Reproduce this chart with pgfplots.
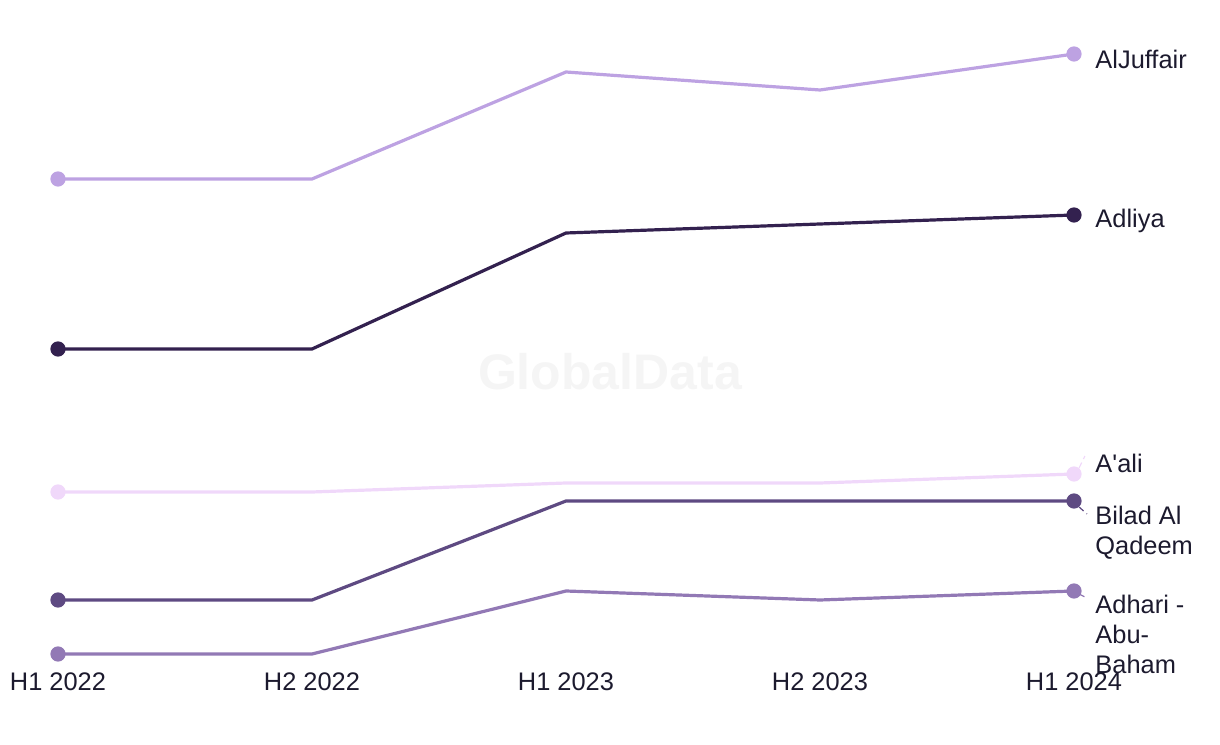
\documentclass[border=0pt]{standalone}
\usepackage{pgfplots}
\pgfplotsset{compat=1.18}
\usepackage{fontspec}
\setmainfont{Liberation Sans}
\definecolor{txt}{HTML}{1C1A2E}
\definecolor{cJuf}{HTML}{BDA2E2}
\definecolor{cAdl}{HTML}{33214F}
\definecolor{cAal}{HTML}{F0D8FA}
\definecolor{cBil}{HTML}{5E4A82}
\definecolor{cAdh}{HTML}{9279B5}
\begin{document}
\begin{tikzpicture}
\useasboundingbox (0,0) rectangle (610pt,372pt);
\node[text=black!4, font=\bfseries\fontsize{25}{30}\selectfont] at (305pt,186pt) {GlobalData};
\begin{axis}[
  at={(29pt,41pt)}, anchor=south west,
  scale only axis, width=508pt, height=331pt,
  xmin=0, xmax=4, ymin=82, ymax=744,
  axis line style={draw=none}, tick style={draw=none}, clip=false,
  xtick={0,1,2,3,4},
  xticklabels={H1 2022,H2 2022,H1 2023,H2 2023,H1 2024},
  ytick=\empty,
  xticklabel style={font=\fontsize{12.7}{14}\selectfont, text=txt, anchor=north, yshift=-2pt},
  every axis plot/.append style={line width=1.6pt, mark=*, mark size=3pt},
]
\addplot[cJuf, mark options={fill=cJuf, draw=cJuf}, mark indices={1,5}] coordinates {(0,565)(1,565)(2,672)(3,654)(4,690)};
\addplot[cAdl, mark options={fill=cAdl, draw=cAdl}, mark indices={1,5}] coordinates {(0,395)(1,395)(2,511)(3,520)(4,529)};
\addplot[cAal, mark options={fill=cAal, draw=cAal}, mark indices={1,5}] coordinates {(0,252)(1,252)(2,261)(3,261)(4,270)};
\addplot[cBil, mark options={fill=cBil, draw=cBil}, mark indices={1,5}] coordinates {(0,144)(1,144)(2,243)(3,243)(4,243)};
\addplot[cAdh, mark options={fill=cAdh, draw=cAdh}, mark indices={1,5}] coordinates {(0,90)(1,90)(2,153)(3,144)(4,153)};
\draw[cAal, densely dashed, line width=0.6pt] (axis cs:4.02,276) -- (axis cs:4.043,288);
\draw[cBil, densely dashed, line width=0.6pt] (axis cs:4.02,237) -- (axis cs:4.051,230);
\draw[cAdh, densely dashed, line width=0.6pt] (axis cs:4.02,150) -- (axis cs:4.051,146);
\begin{scope}[every node/.style={font=\fontsize{12.7}{15}\selectfont, text=txt, anchor=west, align=left, inner sep=0pt}]
\node at (axis cs:4.083,685) {AlJuffair};
\node at (axis cs:4.083,523) {Adliya};
\node at (axis cs:4.083,281) {A\textquotesingle ali};
\node at (axis cs:4.083,211) {Bilad Al\\Qadeem};
\node at (axis cs:4.083,110) {Adhari -\\Abu-\\Baham};
\end{scope}
\end{axis}
\end{tikzpicture}
\end{document}
